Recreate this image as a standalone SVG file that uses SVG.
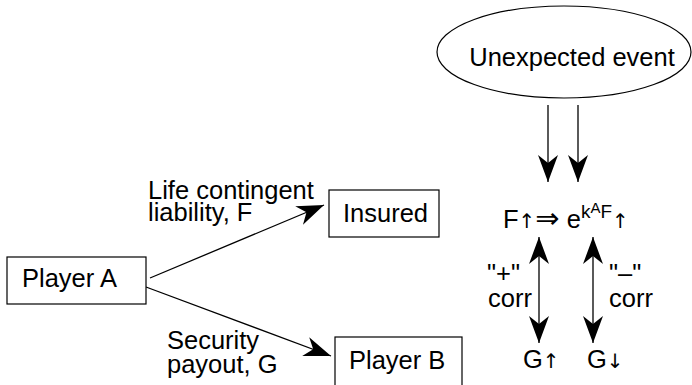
<svg xmlns="http://www.w3.org/2000/svg" width="692" height="385" viewBox="0 0 692 385">
<style>
text{font-family:"Liberation Sans",Arial,sans-serif;fill:#000;font-size:25.5px}
.box{fill:#fff;stroke:#000;stroke-width:1.2}
.ln{fill:none;stroke:#000;stroke-width:1.3}
.ar{font-family:"DejaVu Sans",sans-serif}
</style>
<defs>
<marker id="ah" markerUnits="userSpaceOnUse" markerWidth="30" markerHeight="24" viewBox="-28 -11 30 22" refX="0" refY="0" orient="auto">
<path d="M0,0 L-27,-10 L-19,0 L-27,10 Z" fill="#000"/>
</marker>
<marker id="ahs" markerUnits="userSpaceOnUse" markerWidth="30" markerHeight="24" viewBox="-28 -11 30 22" refX="0" refY="0" orient="auto-start-reverse">
<path d="M0,0 L-27,-10 L-19,0 L-27,10 Z" fill="#000"/>
</marker>
</defs>
<g id="connectors">
<line class="ln" x1="150" y1="278" x2="324" y2="205" marker-end="url(#ah)"/>
<line class="ln" x1="146" y1="287" x2="331" y2="356" marker-end="url(#ah)"/>
<line class="ln" x1="548" y1="105" x2="548" y2="182" marker-end="url(#ah)"/>
<line class="ln" x1="578" y1="105" x2="578" y2="182" marker-end="url(#ah)"/>
<line class="ln" x1="539" y1="237" x2="539" y2="343" marker-start="url(#ahs)" marker-end="url(#ah)"/>
<line class="ln" x1="593" y1="237" x2="593" y2="343" marker-start="url(#ahs)" marker-end="url(#ah)"/>
<text x="148" y="199">Life contingent<tspan x="148" y="221">liability, F</tspan></text>
<text x="167" y="349">Security<tspan x="167" y="373">payout, G</tspan></text>
<text x="487" y="282">"+"<tspan x="488" y="307">corr</tspan></text>
<text x="609" y="282">"–"<tspan x="609" y="307">corr</tspan></text>
</g>
<g id="event">
<ellipse class="box" cx="564" cy="52" rx="127" ry="46"/>
<text x="572" y="66" text-anchor="middle">Unexpected event</text>
</g>
<g id="playerA">
<rect class="box" x="7" y="257" width="139" height="47"/>
<text x="22" y="287">Player A</text>
</g>
<g id="insured">
<rect class="box" x="329" y="190" width="110" height="47"/>
<text x="343" y="222">Insured</text>
</g>
<g id="playerB">
<rect class="box" x="335" y="337" width="127" height="50"/>
<text x="349" y="369">Player B</text>
</g>
<g id="formula">
<text x="503" y="228">F<tspan class="ar" font-size="20">↑</tspan><tspan class="ar" font-size="29">⇒</tspan> e<tspan dy="-10" font-size="19">k</tspan><tspan dy="-5" font-size="15">A</tspan><tspan dy="5" font-size="19">F</tspan><tspan class="ar" dy="10" font-size="20">↑</tspan></text>
</g>
<g id="g-up"><text x="523" y="368">G<tspan class="ar" font-size="20">↑</tspan></text></g>
<g id="g-down"><text x="587" y="368">G<tspan class="ar" font-size="20">↓</tspan></text></g>
</svg>
